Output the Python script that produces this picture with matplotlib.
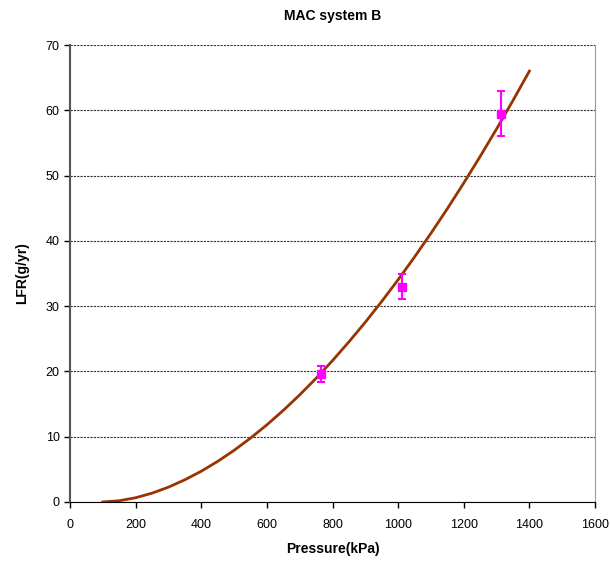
import numpy as np
import matplotlib.pyplot as plt

plt.rcParams['font.family'] = ['Liberation Sans', 'DejaVu Sans']

# fitted curve
curve_p = [100, 150, 200, 250, 300, 350, 400, 450, 500, 550, 600, 650, 700, 750,
           800, 850, 900, 950, 1000, 1050, 1100, 1150, 1200, 1250, 1300, 1350, 1400]
curve_lfr = [0, 0.19, 0.65, 1.35, 2.27, 3.40, 4.71, 6.22, 7.91, 9.78, 11.82, 14.03,
             16.41, 18.95, 21.66, 24.53, 27.54, 30.72, 34.05, 37.53, 41.16, 44.93,
             48.86, 52.93, 57.14, 61.50, 66.0]

# measured points with error bars
meas_p = [765, 1012, 1315]
meas_lfr = [19.6, 33.0, 59.5]
meas_err = [1.2, 1.9, 3.5]

fig = plt.figure(figsize=(6.1, 5.62), dpi=100)
ax = fig.add_axes([0.1148, 0.1068, 0.8606, 0.8131])

ax.plot(curve_p, curve_lfr, color='#993300', lw=2)
ax.errorbar(meas_p, meas_lfr, yerr=meas_err, fmt='s', color='#FF00FF',
            ms=6, elinewidth=1.5, capsize=3, capthick=1.5)

ax.set_xlim(0, 1600)
ax.set_ylim(0, 70)
ax.set_xticks(range(0, 1601, 200))
ax.set_yticks(range(0, 71, 10))
ax.yaxis.grid(True, ls=(0, (2, 1)), color='#333333', lw=0.8)
ax.tick_params(labelsize=9, length=4, width=1, direction='out')
ax.tick_params(axis='x', pad=8)

ax.spines['top'].set_visible(False)
ax.spines['right'].set_color('#999999')
ax.spines['left'].set_color('#555555')
ax.spines['left'].set_linewidth(1.5)
ax.spines['bottom'].set_color('black')

ax.set_title('MAC system B', fontsize=10, fontweight='bold', pad=18)
ax.set_xlabel('Pressure(kPa)', fontsize=10, fontweight='bold', labelpad=8)
ax.set_ylabel('LFR(g/yr)', fontsize=10, fontweight='bold', labelpad=12)

fig.savefig('out.png', dpi=100)
